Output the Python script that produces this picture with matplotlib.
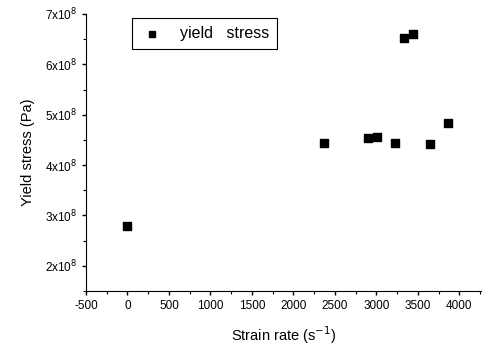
import matplotlib.pyplot as plt
from matplotlib.ticker import MultipleLocator, FuncFormatter

plt.rcParams['font.family'] = ['Liberation Sans', 'DejaVu Sans']
plt.rcParams['axes.unicode_minus'] = False

# data
strain_rate = [0, 2365, 2900, 3008, 3220, 3329, 3438, 3651, 3868]
yield_stress = [2.80e8, 4.43e8, 4.53e8, 4.56e8, 4.43e8, 6.53e8, 6.61e8, 4.41e8, 4.84e8]

x_ticks = [-500, 0, 500, 1000, 1500, 2000, 2500, 3000, 3500, 4000]
y_ticks = [2e8, 3e8, 4e8, 5e8, 6e8, 7e8]


def sci_fmt(v, pos):
    return r'%dx10$^{8}$' % round(v / 1e8)


fig = plt.figure(figsize=(4.9, 3.48), dpi=100)
ax = fig.add_axes([0.1755, 0.1638, 0.806, 0.796])

ax.scatter(strain_rate, yield_stress, marker='s', s=26, color='black',
           label='yield   stress', zorder=3)

ax.set_xlim(-500, 4260)
ax.set_ylim(1.5e8, 7e8)
ax.set_xticks(x_ticks)
ax.set_yticks(y_ticks)
ax.yaxis.set_major_formatter(FuncFormatter(sci_fmt))
ax.xaxis.set_minor_locator(MultipleLocator(250))
ax.yaxis.set_minor_locator(MultipleLocator(0.5e8))

ax.spines['top'].set_visible(False)
ax.spines['right'].set_visible(False)
ax.tick_params(which='major', direction='out', length=3, width=1, labelsize=8.5)
ax.tick_params(which='minor', direction='out', length=2, width=0.8)

ax.set_xlabel('Strain rate (s$^{-1}$)', fontsize=10.5, labelpad=9)
ax.set_ylabel('Yield stress (Pa)', fontsize=10.5, labelpad=7)

leg = ax.legend(loc='upper left', bbox_to_anchor=(0.116, 0.986), fontsize=11.5,
                fancybox=False, edgecolor='black', framealpha=1,
                handletextpad=1.0, borderpad=0.5, borderaxespad=0,
                handlelength=1.5, markerscale=0.85)
leg.get_frame().set_linewidth(0.8)

fig.savefig('out.png', dpi=100)
